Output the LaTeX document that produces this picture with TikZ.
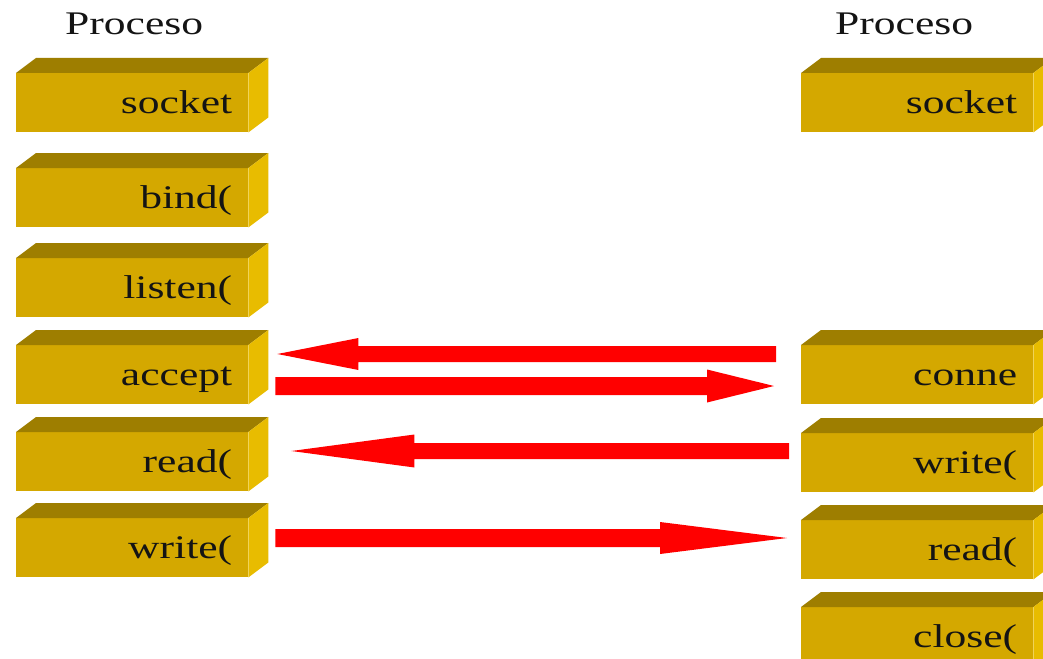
\documentclass[tikz,border=0pt]{standalone}
\usepackage{fontspec}
\setmainfont{Liberation Serif}
\usetikzlibrary{calc}
\definecolor{boxfront}{RGB}{212,168,0}
\definecolor{boxtop}{RGB}{158,126,0}
\definecolor{boxside}{RGB}{232,188,0}
\definecolor{arrred}{RGB}{255,0,0}
\newcommand{\widetxt}[1]{\scalebox{1.32}[1]{#1}}
\newcommand{\mkcube}[4]{%
  \node[front] (#1) at (#2,#3) {};
  \fill[topface] (#1.north west) -- ++(20,-15) -- ($(#1.north east)+(20,-15)$) -- (#1.north east) -- cycle;
  \fill[sideface] (#1.north east) -- ++(20,-15) -- ($(#1.south east)+(20,-15)$) -- (#1.south east) -- cycle;
  \node[lbl] (#1t) at ($(#1.south east)+(-16,-19)$) {\widetxt{#4}};
}
% #1 start, #2 tip, #3 half shaft thickness, #4 head length (signed, from tip toward start), #5 half head width
\newcommand{\fatarrow}[5]{%
  \fill[fatarrow] ($(#1)+(0,-#3)$) -- ($(#2)+(#4,-#3)$) -- ($(#2)+(#4,-#5)$) -- (#2)
    -- ($(#2)+(#4,#5)$) -- ($(#2)+(#4,#3)$) -- ($(#1)+(0,#3)$) -- cycle;
}
\begin{document}
\begin{tikzpicture}[x=1pt,y=-1pt,
  front/.style={fill=boxfront, draw=none, minimum width=232pt, minimum height=59pt, inner sep=0pt, anchor=north west},
  topface/.style={fill=boxtop, draw=none},
  sideface/.style={fill=boxside, draw=none},
  lbl/.style={font=\fontsize{33}{39}\selectfont, inner sep=0pt, anchor=base east, text=black!92},
  fatarrow/.style={fill=arrred, draw=none}]
\useasboundingbox (0,0) rectangle (1043,658);
\clip (0,0) rectangle (1043,658);
\fill[white] (0,0) rectangle (1043,658);
\node[lbl, anchor=base west] (pl) at (65,35) {\widetxt{Proceso}};
\node[lbl, anchor=base west] (pr) at (835,35) {\widetxt{Proceso}};
\mkcube{lsock}{16}{73}{socket}
\mkcube{lbind}{16}{168}{bind(}
\mkcube{llist}{16}{258}{listen(}
\mkcube{lacc}{16}{345}{accept}
\mkcube{lread}{16}{432}{read(}
\mkcube{lwrite}{16}{518}{write(}
\mkcube{rsock}{801}{73}{socket}
\mkcube{rconn}{801}{345}{conne}
\mkcube{rwrite}{801}{433}{write(}
\mkcube{rread}{801}{520}{read(}
\mkcube{rclose}{801}{607}{close(}
% arrow end points
\coordinate (a1s) at ($(rconn.north west)+(-25,9)$);
\coordinate (a1e) at ($(lacc.north east)+(29,9)$);
\coordinate (a2s) at ($(lacc.north east)+(27,41)$);
\coordinate (a2e) at ($(rconn.north west)+(-27,41)$);
\coordinate (a3s) at ($(rwrite.north west)+(-12,18)$);
\coordinate (a3e) at ($(lread.north east)+(43,19)$);
\coordinate (a4s) at ($(lwrite.north east)+(27,20)$);
\coordinate (a4e) at ($(rread.north west)+(-14,18)$);
\fatarrow{a1s}{a1e}{8}{81}{16}
\fatarrow{a2s}{a2e}{9}{-67}{16.5}
\fatarrow{a3s}{a3e}{8}{123}{16.5}
\fatarrow{a4s}{a4e}{9}{-127}{16}
\end{tikzpicture}
\end{document}
